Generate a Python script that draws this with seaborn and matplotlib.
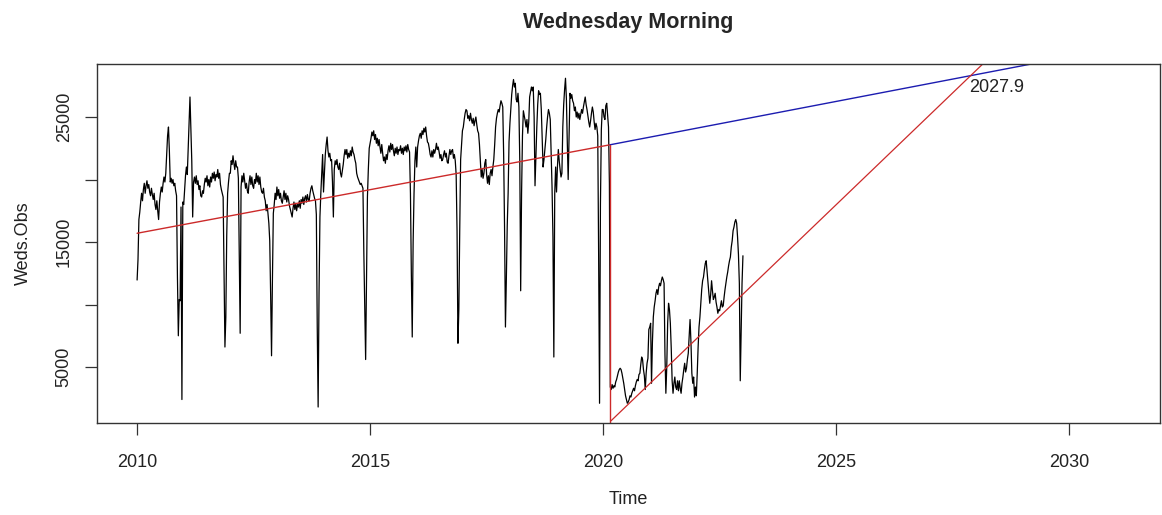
import numpy as np
import pandas as pd
import seaborn as sns
import matplotlib.pyplot as plt

obs_2010 = [11960, 13600, 16800, 17400, 18200, 18900, 18300, 19200, 19700, 18900,
            19500, 19900, 19300, 19600, 19000, 18700, 19300, 18800, 18400, 18900,
            18000, 17600, 18300, 17500, 16800, 18200, 18900, 19400, 19000, 19700,
            20200, 19800, 20500, 22000, 23500, 24200, 22300, 19800, 20100, 19700,
            20000, 19500, 19700, 19100, 18700, 12200, 7500, 10400, 10300, 17800,
            2400, 18200]
obs_2011 = [18000, 19200, 20300, 21000, 20400, 22500, 24800, 26600, 23900, 21500,
            17000, 19800, 20200, 19700, 20300, 19600, 19900, 19200, 19500, 18700,
            18600, 19100, 18900, 19600, 20100, 19800, 20300, 19500, 20000, 19400,
            20200, 19800, 20500, 20100, 20600, 19900, 20400, 20200, 20800, 20100,
            20500, 19600, 19200, 18900, 18600, 12500, 6600, 9000, 15500, 18900,
            19800, 20500]
obs_2012 = [20500, 21500, 21200, 21900, 21300, 20800, 21500, 21000, 21000, 20100,
            14100, 7700, 19400, 20300, 19800, 20500, 19900, 19300, 19700, 19100,
            18900, 19800, 20300, 19600, 20200, 19500, 19300, 20000, 19700, 20500,
            19800, 20300, 19600, 20200, 19400, 19000, 18900, 19300, 18600, 18300,
            17500, 18000, 17300, 16500, 15100, 10800, 5900, 12000, 17300, 18000,
            18900, 18400]
obs_2013 = [19400, 18700, 19200, 18500, 18900, 18300, 18100, 18600, 19100, 18400,
            18900, 18200, 18700, 18400, 17900, 17600, 17300, 17000, 17700, 18200,
            17600, 18100, 17500, 18000, 17800, 18300, 17700, 18400, 18100, 18600,
            18000, 18500, 18700, 18200, 18800, 18400, 18300, 18900, 19300, 19500,
            19100, 18800, 18500, 18300, 17200, 8200, 1800, 10900, 17000, 18900,
            20500, 22000]
obs_2014 = [19000, 20500, 22000, 22800, 23400, 22300, 21800, 22100, 21500, 21600,
            19800, 17000, 20800, 21500, 21200, 21600, 21000, 20800, 21300, 20500,
            20200, 20700, 21200, 21900, 22400, 22000, 22400, 21700, 22100, 21800,
            22300, 21900, 22600, 22200, 22000, 21600, 21300, 20500, 20200, 20000,
            19800, 19600, 19700, 19500, 19300, 14100, 9800, 5600, 12500, 18600,
            20800, 22500]
obs_2015 = [22900, 23300, 23800, 23500, 23900, 23200, 23600, 22900, 23300, 22700,
            23200, 22600, 22100, 22800, 22100, 21500, 21800, 21300, 22000, 21600,
            22300, 22700, 22200, 22900, 22400, 22800, 22300, 21900, 22500, 22100,
            22600, 22000, 22400, 22300, 22700, 22100, 22500, 22000, 22600, 22300,
            22700, 22200, 22800, 22400, 22200, 18900, 12500, 7400, 15000, 18900,
            21500, 22600]
obs_2016 = [21000, 22600, 23100, 23500, 23700, 23300, 23900, 23600, 24100, 23800,
            24200, 23500, 23000, 22900, 22500, 22000, 21800, 22300, 21800, 22400,
            22100, 22400, 22900, 22400, 22600, 22200, 21700, 22000, 21500, 21600,
            22000, 22300, 21800, 22100, 21400, 21300, 21900, 22400, 22000, 22300,
            22400, 21700, 22000, 21500, 20400, 15900, 6900, 9600, 16000, 21600,
            22800, 23900]
obs_2017 = [24200, 24800, 25300, 25600, 25500, 24900, 25100, 24700, 25300, 24800,
            24500, 24900, 24300, 24700, 25000, 24400, 23900, 23700, 22800, 21500,
            20200, 20800, 20100, 20500, 21300, 21600, 20400, 19700, 20300, 19600,
            20500, 20800, 20300, 21000, 21600, 22800, 24200, 24900, 25300, 25600,
            25400, 25900, 26300, 26100, 25800, 22000, 16200, 8200, 12000, 16300,
            18900, 23000]
obs_2018 = [24500, 25600, 26800, 27500, 28000, 27400, 27700, 26400, 26200, 26900,
            25800, 21500, 11100, 18900, 23500, 25500, 25100, 24700, 24200, 24800,
            23700, 24600, 26600, 27000, 27400, 27100, 27400, 25000, 19500, 21800,
            24200, 26000, 27100, 26800, 26900, 25600, 23200, 21000, 21600, 22400,
            23200, 24200, 25000, 25600, 25300, 24800, 22000, 19400, 15400, 5800,
            18900, 21000]
obs_2019 = [19000, 21000, 22400, 21500, 20800, 20200, 20500, 24200, 26000, 27200,
            28100, 26500, 23000, 20000, 23500, 26900, 26500, 26800, 26300, 26100,
            25500, 25800, 25000, 25400, 24900, 25300, 24800, 25200, 25600, 25300,
            25800, 26200, 26600, 26000, 25600, 25100, 24600, 24200, 24700, 25300,
            25800, 25400, 24600, 24000, 24500, 24200, 23500, 13800, 2100, 18000,
            24000, 25600]
obs_2020 = [25600, 25000, 24800, 25900, 26100, 25200, 24200, 19700, 3400, 3200,
            3600, 3300, 3500, 3400, 3800, 4000, 4300, 4600, 4800, 4900,
            4800, 4500, 4100, 3700, 3200, 2700, 2400, 2100, 2200, 2400,
            2700, 2600, 2900, 3100, 3300, 3100, 3500, 3800, 4000, 3900,
            4400, 4500, 5200, 5800, 5600, 4800, 4300, 3200, 4500, 5300,
            5700, 8000]
obs_2021 = [8200, 8500, 3700, 7000, 9000, 9800, 10300, 10900, 11200, 10800,
            11400, 11700, 11500, 11900, 12200, 12000, 11700, 6000, 2900, 5000,
            8500, 10100, 9600, 8500, 6500, 3900, 2900, 3700, 4200, 3400,
            3200, 3900, 3100, 3900, 3300, 2900, 3700, 4200, 4800, 5300,
            4600, 4900, 5600, 6100, 7400, 8800, 7000, 4500, 3700, 4200,
            2600, 3400]
obs_2022 = [2700, 4500, 6600, 8200, 9000, 10100, 11200, 11900, 12200, 12800,
            13300, 13500, 12600, 11700, 10900, 10100, 10800, 11900, 11100, 10400,
            10600, 10900, 10200, 9800, 9300, 9600, 9500, 9900, 10300, 9800,
            9900, 10600, 11200, 11700, 12200, 12600, 13100, 13500, 13800, 14600,
            15100, 15900, 16200, 16600, 16800, 16500, 15400, 14000, 11700, 3900,
            7700, 11700]
obs_2023 = [13900]

# pre-2020 trend (red), its forecast (blue), the break and the post-2020 trend
trend_x = [2010.0, 2020.15]
trend_y = [15700, 22780]
forecast_x = [2020.15, 2032.0]
forecast_y = [22780, 31250]
break_x = [2020.15, 2020.15]
break_y = [22780, 0]
recovery_x = [2020.17, 2032.0]
recovery_y = [700, 43030]
cross_year = 2027.9
cross_label = "2027.9"

weds = (obs_2010 + obs_2011 + obs_2012 + obs_2013 + obs_2014 + obs_2015 + obs_2016
        + obs_2017 + obs_2018 + obs_2019 + obs_2020 + obs_2021 + obs_2022 + obs_2023)
df = pd.DataFrame({"Time": 2010 + np.arange(len(weds)) / 52, "Weds.Obs": weds})

sns.set_style("ticks")
plt.rcParams['font.family'] = ['Liberation Sans', 'DejaVu Sans']

fig = plt.figure(figsize=(11.62, 5.15), dpi=100)
ax = fig.add_axes([0.0835, 0.1786, 0.9148, 0.6971])

sns.lineplot(data=df, x="Time", y="Weds.Obs", color="black", linewidth=0.9, ax=ax)
ax.plot(trend_x, trend_y, color="#cc2a2a", linewidth=1.0)
ax.plot(forecast_x, forecast_y, color="#1c1cb0", linewidth=1.0)
ax.plot(break_x, break_y, color="#cc2a2a", linewidth=1.0)
ax.plot(recovery_x, recovery_y, color="#cc2a2a", linewidth=0.9)
ax.text(cross_year - 0.05, 27400, cross_label, ha="left", va="center",
        fontsize=13, color="#222222")

ax.set_xlim(2009.14, 2031.95)
ax.set_ylim(520, 29240)
ax.set_xticks([2010, 2015, 2020, 2025, 2030])
ax.set_yticks([5000, 10000, 15000, 20000, 25000])
ax.set_yticklabels(["5000", "", "15000", "", "25000"], rotation=90, va="center")
ax.tick_params(axis="both", direction="out", length=8.5, width=0.9,
               labelsize=13, color="#333333", labelcolor="#222222")
ax.tick_params(axis="x", pad=14)
ax.tick_params(axis="y", pad=9)

for side in ax.spines.values():
    side.set_visible(True)
    side.set_color("#333333")
    side.set_linewidth(1.0)

ax.set_xlabel("Time", fontsize=13, color="#222222", labelpad=14)
ax.set_ylabel("Weds.Obs", fontsize=13, color="#222222", labelpad=17)
fig.text(0.5405, 0.957, "Wednesday Morning", ha="center", va="center",
         fontsize=15.5, fontweight="bold")

fig.savefig("out.png", dpi=100)
